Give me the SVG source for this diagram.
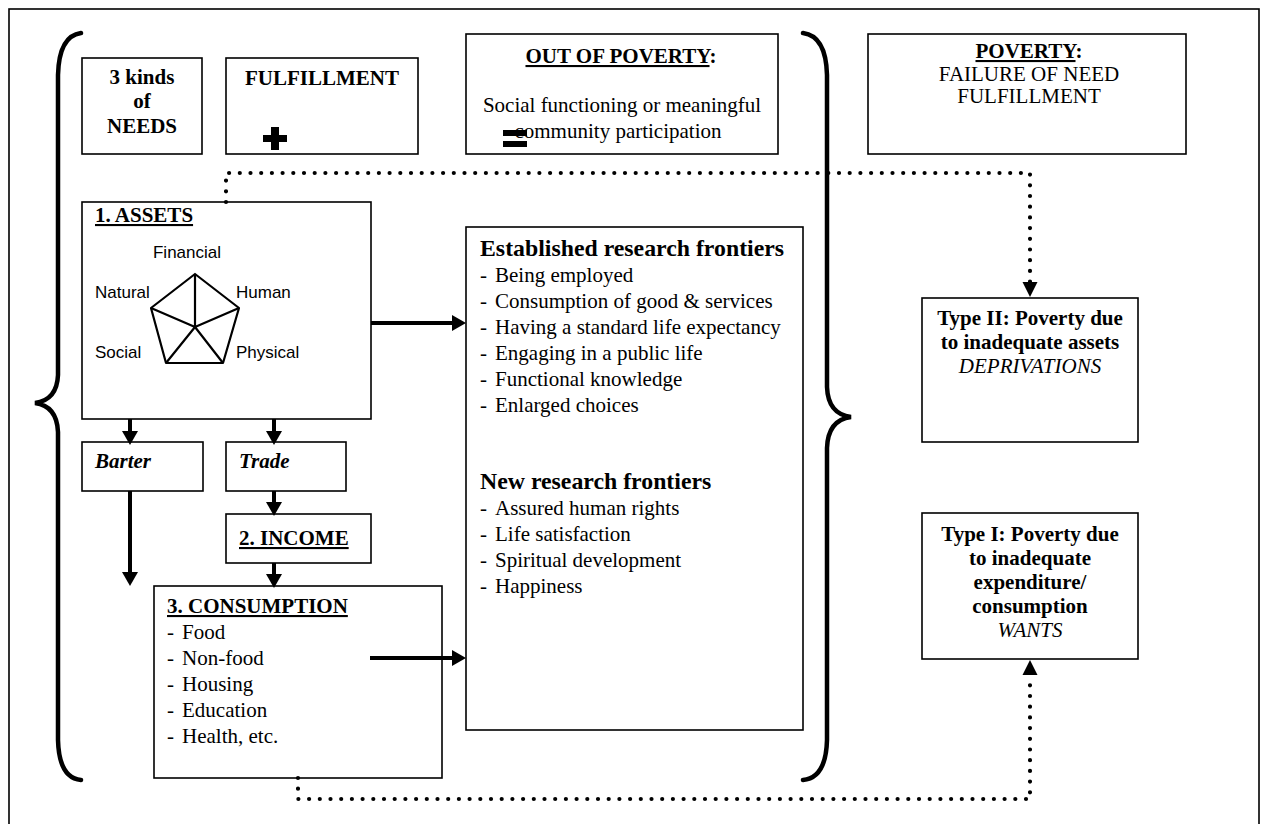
<svg xmlns="http://www.w3.org/2000/svg" width="1262" height="824" viewBox="0 0 1262 824">
<defs>
<style>
.box{fill:#fff;stroke:#000;stroke-width:1.6}
.t{font-family:"Liberation Serif","Times New Roman",serif;font-size:21px;fill:#000}
.b{font-weight:bold}
.i{font-style:italic}
.s{font-family:"Liberation Sans",Arial,sans-serif;font-size:17px;fill:#000}
.u{text-decoration:underline}
.solid{fill:none;stroke:#000;stroke-width:4}
.dot{fill:none;stroke:#000;stroke-width:4.2;stroke-linecap:round;stroke-dasharray:0 10.7}
.brace{fill:none;stroke:#000;stroke-width:4.5;stroke-linecap:round}
.pent{fill:none;stroke:#000;stroke-width:2.2;stroke-linejoin:round}
</style>
<marker id="ah" viewBox="0 0 14 16" refX="0" refY="8" markerWidth="14" markerHeight="16" markerUnits="userSpaceOnUse" orient="auto">
<path d="M0 0 L14 8 L0 16 z" fill="#000"/>
</marker>
</defs>
<rect x="9" y="9" width="1250" height="830" fill="#fff" stroke="#000" stroke-width="1.6"/>

<g id="braces">
<path class="brace" d="M81 33 Q59 36 58 75 L58 375 Q57 400 35 403 Q57 406 58 432 L58 740 Q59 778 81 780"/>
<path class="brace" d="M803 33 Q826 36 827 75 L827 387 Q828 414 851 417 Q828 420 827 448 L827 740 Q826 778 803 780"/>
</g>

<g id="needs">
<rect class="box" x="82" y="58" width="120" height="96"/>
<text class="t b" x="142" y="84" text-anchor="middle">3 kinds</text>
<text class="t b" x="142" y="108" text-anchor="middle">of</text>
<text class="t b" x="142" y="133" text-anchor="middle">NEEDS</text>
</g>

<g id="fulfillment">
<rect class="box" x="226" y="58" width="192" height="96"/>
<text class="t b" x="322" y="85" text-anchor="middle">FULFILLMENT</text>
<rect x="263" y="135" width="24" height="7" fill="#000"/>
<rect x="271" y="127" width="8" height="23" fill="#000"/>
</g>

<g id="out-of-poverty">
<rect class="box" x="466" y="34" width="312" height="120"/>
<text class="t b" x="621" y="63" text-anchor="middle"><tspan class="u">OUT OF POVERTY</tspan>:</text>
<text class="t" x="622" y="112" text-anchor="middle">Social functioning or meaningful</text>
<text class="t" x="618" y="138" text-anchor="middle">community participation</text>
<rect x="503" y="130" width="24" height="6" fill="#000"/>
<rect x="503" y="141" width="24" height="6" fill="#000"/>
</g>

<g id="poverty">
<rect class="box" x="868" y="34" width="318" height="120"/>
<text class="t b" x="1029" y="58" text-anchor="middle"><tspan class="u">POVERTY</tspan>:</text>
<text class="t" x="1029" y="81" text-anchor="middle">FAILURE OF NEED</text>
<text class="t" x="1029" y="103" text-anchor="middle">FULFILLMENT</text>
</g>

<g id="assets">
<rect class="box" x="82" y="202" width="289" height="217"/>
<text class="t b u" x="95" y="222">1. ASSETS</text>
<polygon class="pent" points="195,274 239,308 223,363 166,363 151,308"/>
<path class="pent" d="M195 327 L195 274 M195 327 L239 308 M195 327 L223 363 M195 327 L166 363 M195 327 L151 308"/>
<text class="s" x="187" y="258" text-anchor="middle">Financial</text>
<text class="s" x="95" y="298">Natural</text>
<text class="s" x="236" y="298">Human</text>
<text class="s" x="95" y="358">Social</text>
<text class="s" x="236" y="358">Physical</text>
</g>

<g id="barter">
<rect class="box" x="82" y="442" width="121" height="49"/>
<text class="t b i" x="95" y="468">Barter</text>
</g>

<g id="trade">
<rect class="box" x="226" y="442" width="120" height="49"/>
<text class="t b i" x="239" y="468">Trade</text>
</g>

<g id="income">
<rect class="box" x="226" y="514" width="145" height="49"/>
<text class="t b u" x="239" y="545">2. INCOME</text>
</g>

<g id="consumption">
<rect class="box" x="154" y="586" width="288" height="192"/>
<text class="t b u" x="167" y="613">3. CONSUMPTION</text>
<text class="t" x="167" y="639">-<tspan x="182">Food</tspan></text>
<text class="t" x="167" y="665">-<tspan x="182">Non-food</tspan></text>
<text class="t" x="167" y="691">-<tspan x="182">Housing</tspan></text>
<text class="t" x="167" y="717">-<tspan x="182">Education</tspan></text>
<text class="t" x="167" y="743">-<tspan x="182">Health, etc.</tspan></text>
</g>

<g id="frontiers">
<rect class="box" x="466" y="227" width="337" height="503"/>
<text class="t b" x="480" y="256" style="font-size:23.8px">Established research frontiers</text>
<text class="t" x="480" y="282">-<tspan x="495">Being employed</tspan></text>
<text class="t" x="480" y="308">-<tspan x="495">Consumption of good &amp; services</tspan></text>
<text class="t" x="480" y="334">-<tspan x="495">Having a standard life expectancy</tspan></text>
<text class="t" x="480" y="360">-<tspan x="495">Engaging in a public life</tspan></text>
<text class="t" x="480" y="386">-<tspan x="495">Functional knowledge</tspan></text>
<text class="t" x="480" y="412">-<tspan x="495">Enlarged choices</tspan></text>
<text class="t b" x="480" y="489" style="font-size:23.8px">New research frontiers</text>
<text class="t" x="480" y="515">-<tspan x="495">Assured human rights</tspan></text>
<text class="t" x="480" y="541">-<tspan x="495">Life satisfaction</tspan></text>
<text class="t" x="480" y="567">-<tspan x="495">Spiritual development</tspan></text>
<text class="t" x="480" y="593">-<tspan x="495">Happiness</tspan></text>
</g>

<g id="type2">
<rect class="box" x="922" y="298" width="216" height="144"/>
<text class="t b" x="1030" y="325" text-anchor="middle">Type II: Poverty due</text>
<text class="t b" x="1030" y="349" text-anchor="middle">to inadequate assets</text>
<text class="t i" x="1030" y="373" text-anchor="middle">DEPRIVATIONS</text>
</g>

<g id="type1">
<rect class="box" x="922" y="513" width="216" height="146"/>
<text class="t b" x="1030" y="541" text-anchor="middle">Type I: Poverty due</text>
<text class="t b" x="1030" y="565" text-anchor="middle">to inadequate</text>
<text class="t b" x="1030" y="589" text-anchor="middle">expenditure/</text>
<text class="t b" x="1030" y="613" text-anchor="middle">consumption</text>
<text class="t i" x="1030" y="637" text-anchor="middle">WANTS</text>
</g>

<g id="connectors">
<path class="solid" d="M371 323 L452 323" marker-end="url(#ah)"/>
<path class="solid" d="M370 658 L452 658" marker-end="url(#ah)"/>
<path class="solid" d="M130 419 L130 431" marker-end="url(#ah)"/>
<path class="solid" d="M274 419 L274 431" marker-end="url(#ah)"/>
<path class="solid" d="M130 491 L130 572" marker-end="url(#ah)"/>
<path class="solid" d="M274 491 L274 502" marker-end="url(#ah)"/>
<path class="solid" d="M274 563 L274 574" marker-end="url(#ah)"/>
<path class="dot" d="M226 202 L226 173 L1030 173 L1030 282"/>
<path d="M1022.5 282 L1037.5 282 L1030 297 z" fill="#000"/>
<path class="dot" d="M298 778 L298 799 L1030 799 L1030 675"/>
<path d="M1022.5 675 L1037.5 675 L1030 660 z" fill="#000"/>
</g>
</svg>
